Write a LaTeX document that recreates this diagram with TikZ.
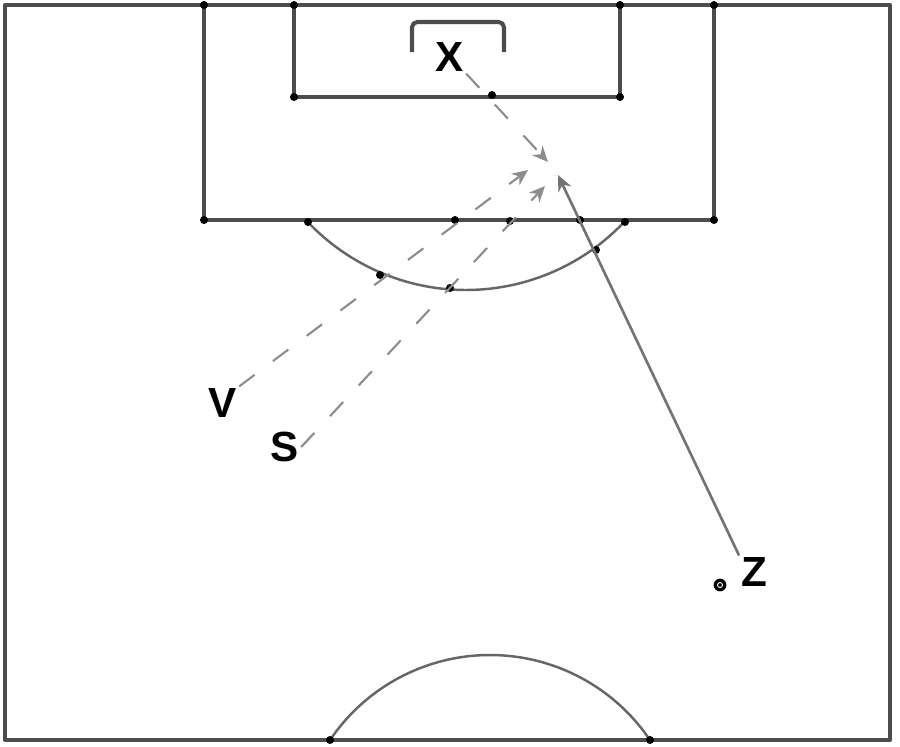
\documentclass[tikz,border=0pt]{standalone}
\usepackage{fontspec}
\setmainfont{Liberation Sans}
\usetikzlibrary{arrows.meta}

\begin{document}
\begin{tikzpicture}[x=0.02cm, y=-0.02cm, line join=round,
    pitch/.style={black!70, line width=2.3pt},
    curve/.style={black!60, line width=1.4pt},
    pass/.style={black!45, line width=1.2pt, dash pattern=on 11pt off 13pt, -{Stealth[length=9pt,width=8pt]}},
    run/.style={black!55, line width=1.5pt, -{Stealth[length=9pt,width=8pt]}},
    lbl/.style={font=\bfseries\fontsize{24}{24}\selectfont, inner sep=1pt}]
    \useasboundingbox (0,0) rectangle (900,747);

    % pitch
    \draw[pitch] (5,5) rectangle (890,740);
    \draw[pitch] (204,5) -- (204,220) -- (714,220) -- (714,5);
    \draw[pitch] (294,5) -- (294,97) -- (620,97) -- (620,5);
    \draw[pitch, rounded corners=3pt] (412,52) -- (412,22) -- (504,22) -- (504,52);

    \draw[curve, domain=43.3:136.5, smooth, samples=40, variable=\t] plot ({466+218*cos(\t)},{72+218*sin(\t)});
    \draw[curve, domain=-146:-34, smooth, samples=40, variable=\t] plot ({490+193*cos(\t)},{848+193*sin(\t)});

    \foreach \p in {(204,5),(294,5),(620,5),(714,5),(204,220),(714,220),(294,97),(620,97),
                    (308,222),(625,222),(330,740),(650,740),(492,95),(455,220),(510,221),
                    (580,220),(380,275),(450,288),(596,250)}
        \fill \p circle (4);

    % players
    \node[lbl] (x) at (450,57) {X};
    \node[lbl] (v) at (223,403) {V};
    \node[lbl] (s) at (285,447) {S};
    \node[lbl] (z) at (754,572) {Z};
    \filldraw[fill=black] (720,585) circle (6);
    \draw[white, line width=0.5pt] (720,585) circle (2.5);

    \coordinate (tx) at (548,162);
    \coordinate (tv) at (528,170);
    \coordinate (ts) at (545,186);
    \coordinate (tz) at (558,175);

    \draw[pass] (x.south east) -- (tx);
    \draw[pass] (v.north east) -- (tv);
    \draw[pass] (s.east) -- (ts);
    \draw[run] (z.north west) -- (tz);

\end{tikzpicture}
\end{document}
